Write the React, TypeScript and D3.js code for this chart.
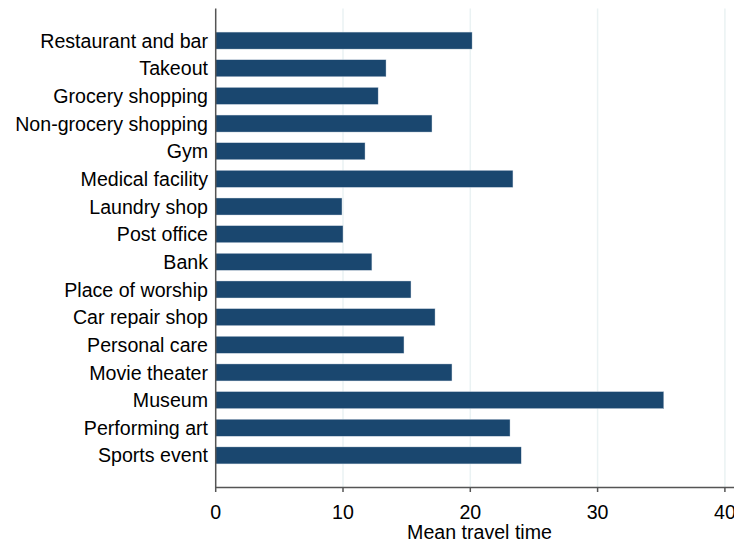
import React from "react";
import * as d3 from "d3";

const categories = [
  "Restaurant and bar",
  "Takeout",
  "Grocery shopping",
  "Non-grocery shopping",
  "Gym",
  "Medical facility",
  "Laundry shop",
  "Post office",
  "Bank",
  "Place of worship",
  "Car repair shop",
  "Personal care",
  "Movie theater",
  "Museum",
  "Performing art",
  "Sports event",
];
const meanTravelTime = [
  20.14, 13.38, 12.76, 16.99, 11.73, 23.35, 9.92, 10.0, 12.27, 15.34, 17.23,
  14.79, 18.56, 35.2, 23.12, 24.0,
];
const xTicks = [0, 10, 20, 30, 40];
const xTitle = "Mean travel time";

const W = 734;
const H = 541;
const left = 215.7;
const top = 8.5;
const bottom = 487.5;
const FONT = "'Liberation Sans', Arial, sans-serif";
const FS = 19.6;

export default function App() {
  const x = d3.scaleLinear().domain([0, 40]).range([left, 724.9]);
  const y = d3
    .scalePoint<string>()
    .domain(categories)
    .range([top, bottom])
    .padding(1.16);
  const barH = 17;
  const barColor = "#1a476f";

  return (
    <svg
      width={W}
      height={H}
      style={{ position: "absolute", left: 0, top: 0, background: "#fff" }}
      fontFamily={FONT}
    >
      <rect x={0} y={0} width={W} height={H} fill="#ffffff" />
      {xTicks
        .filter((t) => t !== 0)
        .map((t) => (
          <line
            key={"g" + t}
            x1={x(t)}
            x2={x(t)}
            y1={top}
            y2={bottom}
            stroke="#eaf2f3"
            strokeWidth={1.5}
          />
        ))}
      {categories.map((c, i) => (
        <rect
          key={c}
          x={x(0)}
          y={(y(c) as number) - barH / 2}
          width={x(meanTravelTime[i]) - x(0)}
          height={barH}
          fill={barColor}
          stroke="#d4dde6"
          strokeWidth={0.4}
        />
      ))}
      {categories.map((c) => (
        <text
          key={"l" + c}
          x={208}
          y={y(c) as number}
          dy="0.36em"
          textAnchor="end"
          fontSize={FS}
          fill="#000"
        >
          {c}
        </text>
      ))}
      <line x1={left} x2={left} y1={top} y2={bottom} stroke="#555" strokeWidth={1.5} />
      <line x1={left - 0.75} x2={W} y1={bottom} y2={bottom} stroke="#555" strokeWidth={1.5} />
      {xTicks.map((t) => (
        <g key={"t" + t}>
          <line x1={x(t)} x2={x(t)} y1={bottom} y2={bottom + 4.5} stroke="#555" strokeWidth={1.5} />
          <text x={x(t)} y={519} textAnchor="middle" fontSize={FS} fill="#000">
            {t}
          </text>
        </g>
      ))}
      <text x={479.5} y={538.5} textAnchor="middle" fontSize={FS} fill="#000">
        {xTitle}
      </text>
    </svg>
  );
}
